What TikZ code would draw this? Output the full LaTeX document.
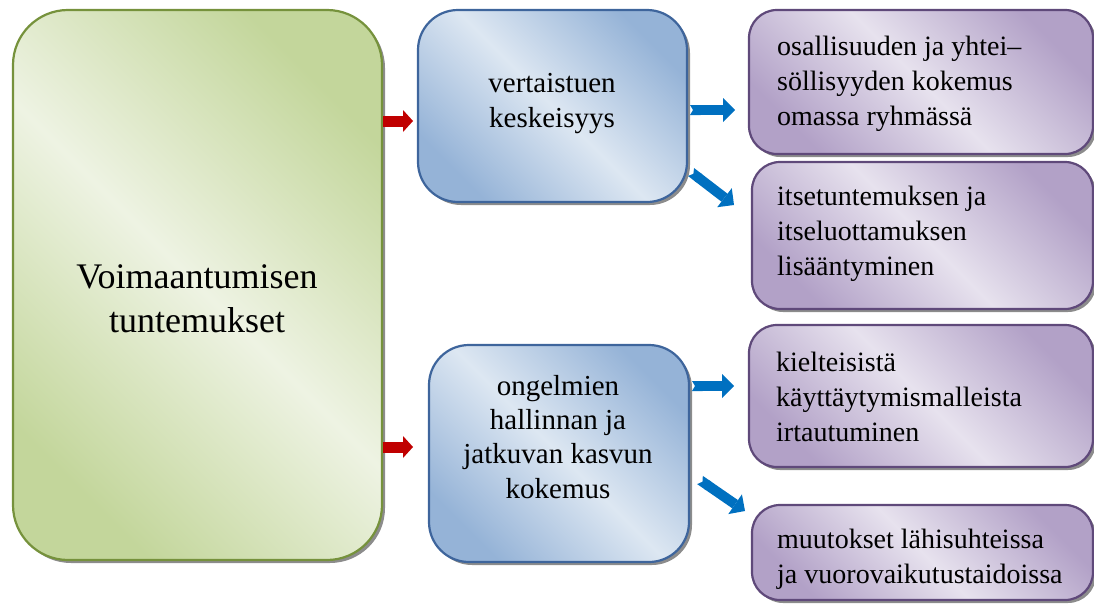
\documentclass[tikz,border=0pt]{standalone}
\usepackage{fontspec}
\setmainfont{Liberation Serif}
\usetikzlibrary{arrows.meta,shadows}
\definecolor{gdark}{HTML}{C3D69B}
\definecolor{glight}{HTML}{EEF3E3}
\definecolor{gline}{HTML}{76923C}
\definecolor{bdark}{HTML}{95B3D7}
\definecolor{blight}{HTML}{DDE7F2}
\definecolor{bline}{HTML}{3E659C}
\definecolor{pdark}{HTML}{B2A1C7}
\definecolor{plight}{HTML}{E7E2EE}
\definecolor{pline}{HTML}{5F497A}
\definecolor{arrred}{HTML}{C00000}
\definecolor{arrblue}{HTML}{0070C0}
\begin{document}
\begin{tikzpicture}[x=1pt,y=-1pt,
  boxbase/.style={rectangle, line width=2.2pt, inner sep=0pt,
    drop shadow={shadow xshift=3pt, shadow yshift=-3pt, fill=black, opacity=0.45}},
  gbox/.style={boxbase, draw=gline, rounded corners=55pt,
    top color=gdark, bottom color=gdark, middle color=glight, shading angle=-45},
  bbox/.style={boxbase, draw=bline, rounded corners=40pt,
    top color=bdark, bottom color=bdark, middle color=blight, shading angle=-45},
  pbox/.style={boxbase, draw=pline, rounded corners=28pt,
    top color=pdark, bottom color=pdark, middle color=plight, shading angle=-45},
  gtext/.style={font=\fontsize{36}{44}\selectfont, align=center, inner sep=0pt, anchor=base},
  btext/.style={font=\fontsize{29}{34.3}\selectfont, align=center, inner sep=0pt, anchor=base},
  ptext/.style={font=\fontsize{28}{35}\selectfont, align=left, inner sep=0pt, anchor=base west},
  redarr/.style={draw=arrred, line width=11pt, -{Triangle[length=10pt,width=22pt,line width=0pt]}},
  bluearr/.style={draw=arrblue, line width=10pt,
    {Triangle Cap[reversed,length=3pt]}-{Triangle[length=12pt,width=24pt,line width=0pt]}}
]
\useasboundingbox (0,0) rectangle (1094,605);
\clip (0,0) rectangle (1094,605);

% boxes
\node[gbox, minimum width=369pt, minimum height=550pt] (g) at (197.5,285) {};
\node[bbox, minimum width=269pt, minimum height=192pt] (b1) at (552.5,106) {};
\node[bbox, minimum width=260pt, minimum height=217pt] (b2) at (559,453.5) {};
\node[pbox, minimum width=344pt, minimum height=144pt] (p1) at (921,82) {};
\node[pbox, minimum width=341pt, minimum height=147pt] (p2) at (922.5,235.5) {};
\node[pbox, minimum width=344pt, minimum height=142pt] (p3) at (921,396) {};
\node[pbox, minimum width=341pt, minimum height=95pt] (p4) at (922.5,552.5) {};

% texts (anchor = baseline of the last line)
\node[gtext] (gt) at (197,332) {Voimaantumisen\\tuntemukset};
\node[btext] (b1t) at (552,127) {vertaistuen\\keskeisyys};
\node[btext] (b2t) at (558,498) {ongelmien\\hallinnan ja\\jatkuvan kasvun\\kokemus};
\node[ptext] (p1t) at (777,125) {osallisuuden ja yhtei–\\söllisyyden kokemus\\omassa ryhmässä};
\node[ptext] (p2t) at (777,275) {itsetuntemuksen ja\\itseluottamuksen\\lisääntyminen};
\node[ptext] (p3t) at (776,441) {kielteisistä\\käyttäytymismalleista\\irtautuminen};
\node[ptext] (p4t) at (777,583) {muutokset lähisuhteissa\\ja vuorovaikutustaidoissa};

% arrow end points
\coordinate (r1s) at (383,121);  \coordinate (r1e) at (413,121);
\coordinate (r2s) at (383,447);  \coordinate (r2e) at (413,447);
\coordinate (h1s) at (690,110);  \coordinate (h1e) at (735,110);
\coordinate (d1s) at (691,172);  \coordinate (d1e) at (734,205);
\coordinate (h2s) at (692,386);  \coordinate (h2e) at (734,386);
\coordinate (d2s) at (700,480);  \coordinate (d2e) at (745,511);

\draw[redarr] (r1s) -- (r1e);
\draw[redarr] (r2s) -- (r2e);
\draw[bluearr] (h1s) -- (h1e);
\draw[bluearr] (d1s) -- (d1e);
\draw[bluearr] (h2s) -- (h2e);
\draw[bluearr] (d2s) -- (d2e);
\end{tikzpicture}
\end{document}
